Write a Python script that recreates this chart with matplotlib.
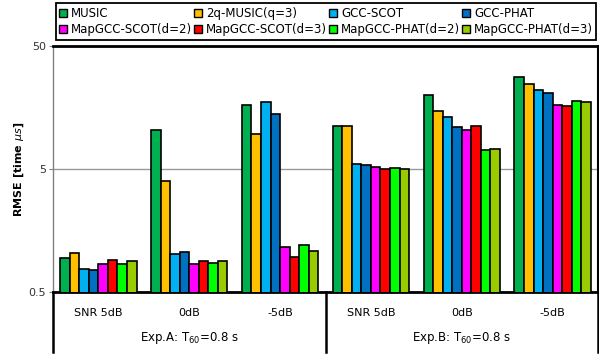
import numpy as np
import matplotlib
matplotlib.use("Agg")
import matplotlib.pyplot as plt
from matplotlib.patches import Patch

# values (RMSE, log axis)
groups = ["SNR 5dB", "0dB", "-5dB", "SNR 5dB", "0dB", "-5dB"]
experiments = [r"Exp.A: T$_{\mathregular{60}}$=0.8 s", r"Exp.B: T$_{\mathregular{60}}$=0.8 s"]
methods = ["MUSIC", "2q-MUSIC(q=3)", "GCC-SCOT", "GCC-PHAT",
           "MapGCC-SCOT(d=2)", "MapGCC-SCOT(d=3)", "MapGCC-PHAT(d=2)", "MapGCC-PHAT(d=3)"]
colors = ["#00b050", "#ffc000", "#00b0f0", "#0070c0",
          "#ff00ff", "#ff0000", "#00ff00", "#99cc00"]

music     = [0.95, 10.3, 16.6, 11.2, 20.0, 28.1]
q2music   = [1.03, 3.96, 9.57, 11.2, 14.7, 24.5]
gcc_scot  = [0.77, 1.02, 17.6, 5.45, 13.2, 22.0]
gcc_phat  = [0.76, 1.05, 14.0, 5.43, 11.0, 20.6]
map_scot2 = [0.85, 0.85, 1.17, 5.15, 10.45, 16.7]
map_scot3 = [0.91, 0.895, 0.97, 5.0, 11.1, 16.2]
map_phat2 = [0.85, 0.86, 1.21, 5.1, 7.18, 18.0]
map_phat3 = [0.90, 0.89, 1.08, 4.97, 7.3, 17.5]

series = [music, q2music, gcc_scot, gcc_phat, map_scot2, map_scot3, map_phat2, map_phat3]

plt.rcParams['font.size'] = 8

W, H = 599, 356
fig = plt.figure(figsize=(W / 100, H / 100), dpi=100)
ax = fig.add_axes([53 / W, (H - 292) / H, 545 / W, 246 / H])

x = np.arange(len(groups))
bw = 0.105
for i in range(len(series)):
    ax.bar(x + (i - 3.5) * bw, series[i], bw, color=colors[i],
           edgecolor="black", linewidth=1.2, zorder=3)

ax.set_yscale("log")
ax.set_ylim(0.5, 50)
ax.set_xlim(-0.5, 5.5)
ax.set_yticks([0.5, 5, 50])
ax.set_yticklabels(["0.5", "5", "50"])
ax.yaxis.set_minor_locator(matplotlib.ticker.NullLocator())
ax.tick_params(axis="y", length=3, color="gray", labelcolor="#333333", pad=2)
ax.set_xticks([])
ax.grid(axis="y", color="#999999", linewidth=1, zorder=0)
ax.set_ylabel(r"RMSE [time $\mu s$]", fontweight="bold", fontsize=8)
ax.yaxis.set_label_coords(-0.05, 0.5)

ax.spines["left"].set_color("gray")
ax.spines["left"].set_linewidth(1)
ax.spines["top"].set_linewidth(2)
ax.spines["right"].set_linewidth(1.5)
ax.spines["bottom"].set_linewidth(2)

# labels under the axis
trans = ax.get_xaxis_transform()
for i in range(len(groups)):
    ax.text(x[i], -0.085, groups[i], transform=trans, ha="center", va="center", fontsize=8)
for j in range(len(experiments)):
    ax.text(1 + 3 * j, -0.187, experiments[j], transform=trans, ha="center", va="center", fontsize=8.5)
for xs in [-0.5, 2.5, 5.5]:
    ax.plot([xs, xs], [0, -0.244], transform=trans, color="black", linewidth=1.8, clip_on=False)

# legend is filled row by row in the reference, matplotlib fills by column
handles = [Patch(facecolor=colors[i], edgecolor="black", linewidth=1, label=methods[i])
           for i in range(len(methods))]
order = [0, 4, 1, 5, 2, 6, 3, 7]
handles = [handles[k] for k in order]
leg = fig.legend(handles=handles, ncol=4, loc="lower left", mode="expand",
                 bbox_to_anchor=(55.5 / W, 1 - 40 / H, 541 / W, 38 / H),
                 fancybox=False, edgecolor="black", framealpha=1,
                 handlelength=0.7, handleheight=0.7, handletextpad=0.3,
                 borderpad=0.3, labelspacing=0.3, columnspacing=1.0,
                 borderaxespad=0, fontsize=8.5)
leg.get_frame().set_linewidth(1.3)

fig.savefig("out.png", dpi=100)
